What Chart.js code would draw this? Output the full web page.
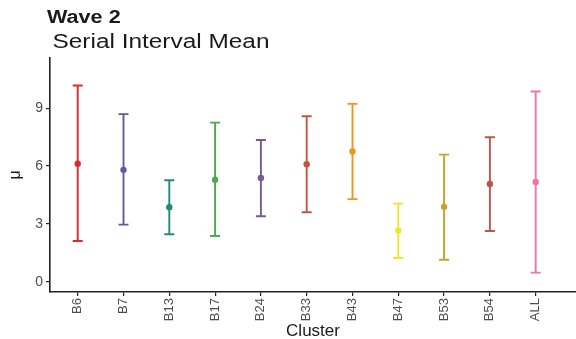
<!DOCTYPE html>
<html>
<head>
<meta charset="utf-8">
<title>Wave 2 – Serial Interval Mean</title>
<script src="https://cdn.jsdelivr.net/npm/chart.js@4/dist/chart.umd.min.js"></script>
<style>
  html, body { margin: 0; padding: 0; background: #ffffff; }
  #wrap { width: 576px; height: 339px; }
</style>
</head>
<body>
<div id="wrap"><canvas id="chart" width="576" height="339"></canvas></div>
<script>
// Serial interval mean per cluster, with lower/upper interval bounds
const clusters = ['B6', 'B7', 'B13', 'B17', 'B24', 'B33', 'B43', 'B47', 'B53', 'B54', 'ALL'];
const means    = [6.12, 5.80, 3.86, 5.29, 5.38, 6.09, 6.75, 2.65, 3.88, 5.07, 5.17];
const lower    = [2.11, 2.96, 2.46, 2.37, 3.39, 3.60, 4.28, 1.23, 1.14, 2.63, 0.47];
const upper    = [10.17, 8.69, 5.26, 8.25, 7.35, 8.58, 9.22, 4.05, 6.59, 7.49, 9.86];
const colors   = ['#dc2a2e', '#5f5b9c', '#22897f', '#4caa4c', '#7b5895', '#c2573c',
                  '#f39221', '#eee52c', '#caa02a', '#b5574f', '#ea78a6'];
const yTicks   = [0, 3, 6, 9];

const title = 'Wave 2';
const subtitle = 'Serial Interval Mean';

// Whiskers with end caps, drawn beneath the mean points
const errorBars = {
  id: 'errorBars',
  beforeDatasetsDraw(chart) {
    const { ctx, scales: { x, y } } = chart;
    const cap = 5;
    ctx.save();
    ctx.lineWidth = 1.9;
    ctx.lineCap = 'butt';
    clusters.forEach((c, i) => {
      const px = x.getPixelForValue(i);
      const top = y.getPixelForValue(upper[i]);
      const bot = y.getPixelForValue(lower[i]);
      ctx.strokeStyle = colors[i];
      ctx.beginPath();
      ctx.moveTo(px, top); ctx.lineTo(px, bot);
      ctx.moveTo(px - cap, top); ctx.lineTo(px + cap, top);
      ctx.moveTo(px - cap, bot); ctx.lineTo(px + cap, bot);
      ctx.stroke();
    });
    ctx.restore();
  }
};

// Heading and subheading above the panel (slightly widened lettering)
const headings = {
  id: 'headings',
  afterDraw(chart) {
    const { ctx } = chart;
    ctx.save();
    ctx.fillStyle = '#1a1a1a';
    ctx.textBaseline = 'alphabetic';
    ctx.textAlign = 'left';

    ctx.save();
    ctx.translate(47, 23.3);
    ctx.scale(1.2, 1);
    ctx.font = 'bold 18px "Liberation Sans", Arial, sans-serif';
    ctx.fillText(title, 0, 0);
    ctx.restore();

    ctx.save();
    ctx.translate(52.5, 47.7);
    ctx.scale(1.22, 1);
    ctx.font = '20px "Liberation Sans", Arial, sans-serif';
    ctx.fillText(subtitle, 0, 0);
    ctx.restore();

    ctx.restore();
  }
};

const axisColor = '#222222';
const tickColor = '#4d4d4d';

new Chart(document.getElementById('chart'), {
  type: 'scatter',
  data: {
    datasets: [{
      data: clusters.map((c, i) => ({ x: i, y: means[i] })),
      pointRadius: 3.2,
      pointHoverRadius: 3.2,
      pointBorderWidth: 0,
      pointBackgroundColor: colors,
      pointBorderColor: colors
    }]
  },
  options: {
    responsive: false,
    animation: false,
    events: [],
    layout: { autoPadding: false, padding: { top: 58, left: 0, right: 0, bottom: 0 } },
    plugins: {
      legend: { display: false },
      tooltip: { enabled: false }
    },
    scales: {
      x: {
        type: 'linear',
        min: -0.605,
        max: 10.88,
        afterBuildTicks(scale) {
          scale.ticks = clusters.map((c, i) => ({ value: i }));
        },
        afterFit(scale) {
          scale.height = 47;
          scale.paddingLeft = 0;
          scale.paddingRight = 0;
        },
        border: { display: true, color: axisColor, width: 1.6 },
        grid: { drawOnChartArea: false, drawTicks: true, tickLength: 4, color: axisColor, lineWidth: 1.2 },
        ticks: {
          autoSkip: false,
          minRotation: 90,
          maxRotation: 90,
          padding: 2,
          color: tickColor,
          font: { family: '"Liberation Sans", Arial, sans-serif', size: 13 },
          callback: (v) => clusters[v]
        },
        title: {
          display: true,
          text: 'Cluster',
          color: '#1a1a1a',
          padding: { top: 0, bottom: -3 },
          font: { family: '"Liberation Sans", Arial, sans-serif', size: 17, lineHeight: 1.2 }
        }
      },
      y: {
        type: 'linear',
        min: -0.535,
        max: 11.6,
        afterBuildTicks(scale) {
          scale.ticks = yTicks.map(v => ({ value: v }));
        },
        afterFit(scale) {
          scale.width = 50;
          scale.paddingTop = 0;
          scale.paddingBottom = 0;
        },
        border: { display: true, color: axisColor, width: 1.6 },
        grid: { drawOnChartArea: false, drawTicks: true, tickLength: 4, color: axisColor, lineWidth: 1.2 },
        ticks: {
          padding: 3,
          color: tickColor,
          font: { family: '"Liberation Sans", Arial, sans-serif', size: 14 }
        },
        title: {
          display: true,
          text: 'μ',
          color: '#1a1a1a',
          padding: { top: 6, bottom: 0 },
          font: { family: '"Liberation Sans", Arial, sans-serif', size: 16, lineHeight: 1.2 }
        }
      }
    }
  },
  plugins: [errorBars, headings]
});
</script>
</body>
</html>
